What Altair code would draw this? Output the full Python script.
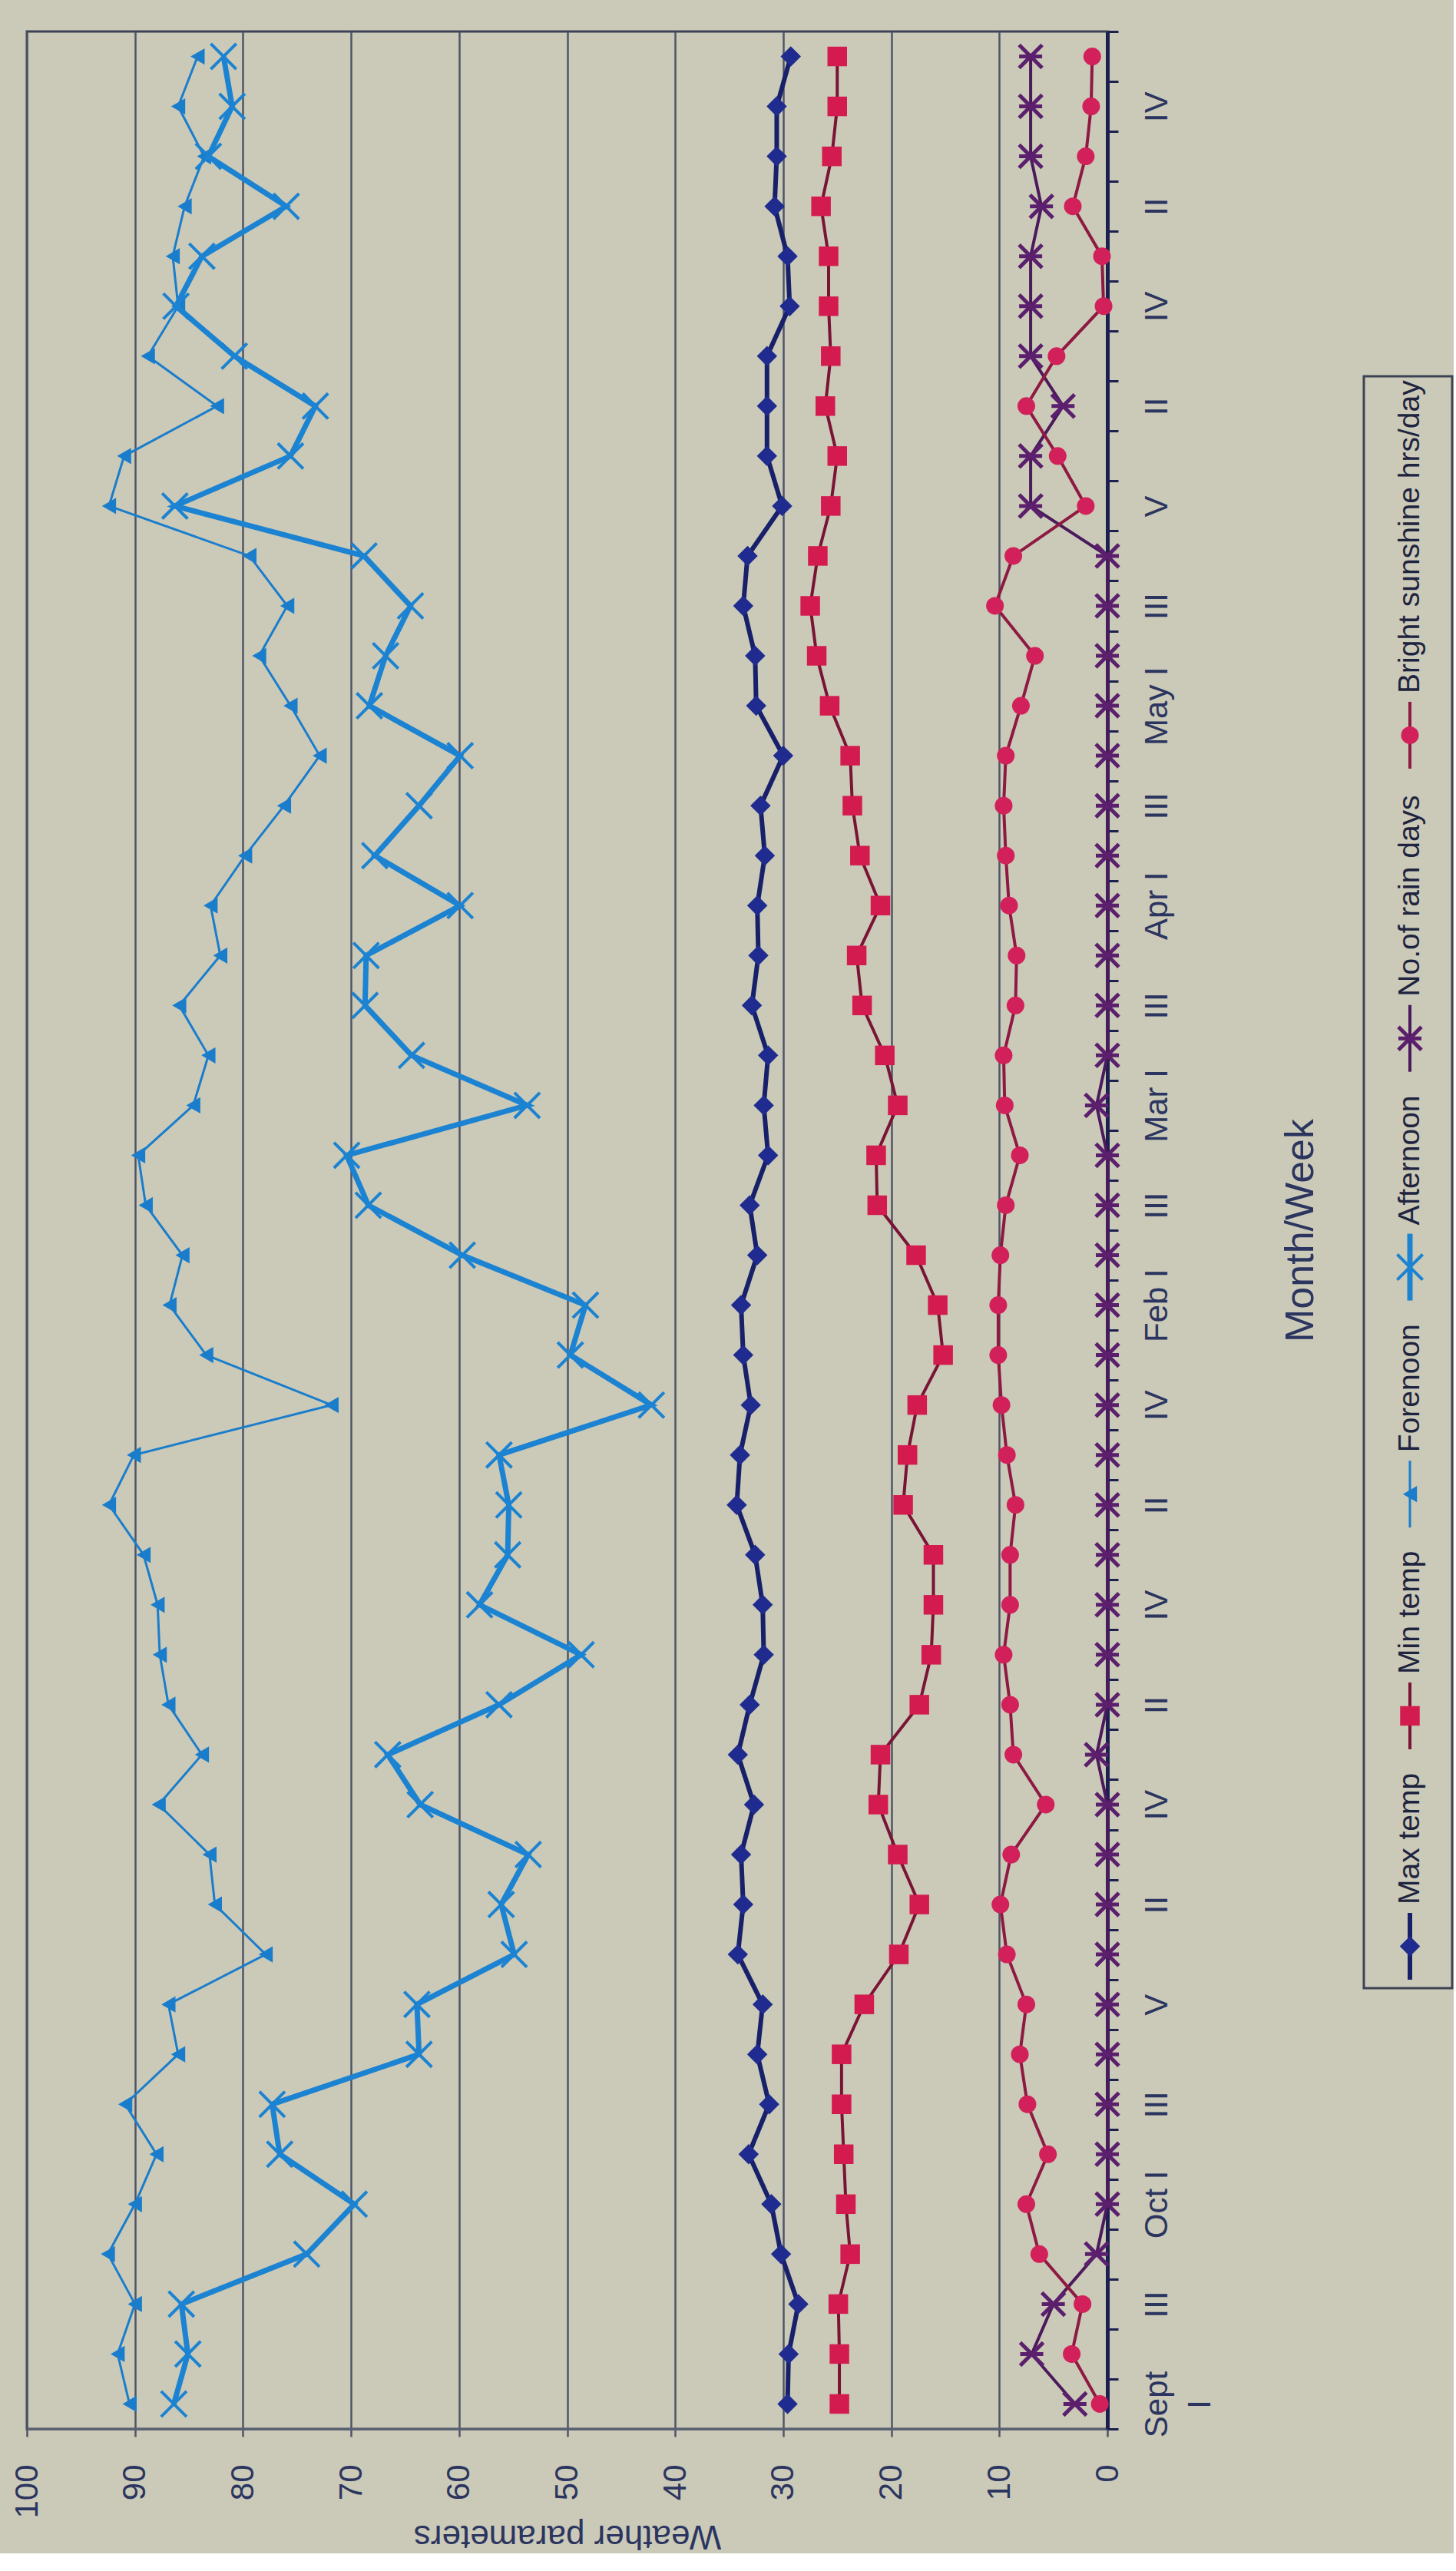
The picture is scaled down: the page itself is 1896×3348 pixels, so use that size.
import json
import altair as alt
import pandas as pd

# ---------------- categories ----------------
months = ["Sept", "Oct", "Nov", "Dec", "Jan", "Feb", "Mar", "Apr", "May", "Jun", "Jul"]
weeks_per_month = [4, 5, 4, 4, 5, 4, 4, 4, 5, 4, 5]
romans = ["I", "II", "III", "IV", "V"]
weeks = [f"{m} {romans[i]}" for m, n in zip(months, weeks_per_month) for i in range(n)]

tick_labels = [["Sept", "I"], "", "III", "", "Oct I", "", "III", "", "V", "",
               "II", "", "IV", "", "II", "", "IV", "", "II", "", "IV", "",
               "Feb I", "", "III", "", "Mar I", "", "III", "", "Apr I", "", "III", "",
               "May I", "", "III", "", "V", "", "II", "", "IV", "", "II", "", "IV", ""]

value_ticks = [0, 10, 20, 30, 40, 50, 60, 70, 80, 90, 100]

# ---------------- series (Sept I ... last week) ----------------
max_temp = [29.6, 29.5, 28.6, 30.2, 31.1, 33.2, 31.3, 32.4, 31.9, 34.2, 33.7, 33.9,
            32.7, 34.2, 33.1, 31.8, 31.9, 32.6, 34.3, 34.0, 33.0, 33.7, 33.9, 32.4,
            33.1, 31.4, 31.8, 31.4, 32.9, 32.3, 32.4, 31.7, 32.1, 30.0, 32.5, 32.6,
            33.7, 33.3, 30.1, 31.5, 31.5, 31.5, 29.4, 29.6, 30.8, 30.6, 30.6, 29.3]
min_temp = [24.8, 24.8, 24.9, 23.8, 24.2, 24.4, 24.6, 24.6, 22.5, 19.3, 17.4, 19.4,
            21.2, 21.0, 17.4, 16.3, 16.1, 16.1, 18.9, 18.5, 17.6, 15.2, 15.7, 17.7,
            21.3, 21.4, 19.4, 20.6, 22.7, 23.2, 21.0, 22.9, 23.6, 23.8, 25.7, 26.9,
            27.5, 26.8, 25.6, 25.0, 26.1, 25.6, 25.8, 25.8, 26.5, 25.5, 25.0, 25.0]
forenoon = [90.5, 91.6, 90.0, 92.5, 90.0, 88.0, 90.9, 86.0, 86.9, 77.9, 82.6, 83.1,
            87.8, 83.8, 86.9, 87.7, 87.9, 89.2, 92.4, 90.1, 71.8, 83.4, 86.8, 85.6,
            89.0, 89.7, 84.6, 83.2, 85.9, 82.1, 83.0, 79.8, 76.2, 72.9, 75.6, 78.5,
            75.9, 79.4, 92.4, 91.0, 82.4, 88.8, 86.0, 86.5, 85.4, 83.6, 86.0, 84.2]
afternoon = [86.4, 85.1, 85.7, 74.1, 69.7, 76.6, 77.3, 63.7, 63.9, 54.9, 56.1, 53.6,
             63.6, 66.6, 56.3, 48.7, 58.1, 55.5, 55.4, 56.3, 42.2, 49.7, 48.3, 59.7,
             68.4, 70.4, 53.7, 64.4, 68.7, 68.6, 59.9, 67.8, 63.7, 59.9, 68.3, 66.8,
             64.5, 68.8, 86.3, 75.6, 73.3, 80.8, 86.2, 83.8, 76.0, 83.2, 81.0, 81.8]
rain_days = [3, 7, 5, 1, 0, 0, 0, 0, 0, 0, 0, 0,
             0, 1, 0, 0, 0, 0, 0, 0, 0, 0, 0, 0,
             0, 0, 1, 0, 0, 0, 0, 0, 0, 0, 0, 0,
             0, 0, 7.1, 7.1, 4.1, 7.1, 7.1, 7.1, 6.1, 7.1, 7.1, 7.1]
sunshine = [0.7, 3.3, 2.3, 6.3, 7.5, 5.5, 7.4, 8.1, 7.5, 9.3, 9.9, 8.9,
            5.7, 8.7, 9.0, 9.6, 9.0, 9.0, 8.5, 9.3, 9.8, 10.1, 10.1, 9.9,
            9.4, 8.1, 9.5, 9.6, 8.5, 8.4, 9.1, 9.4, 9.6, 9.4, 8.0, 6.7,
            10.4, 8.7, 2.0, 4.6, 7.5, 4.7, 0.35, 0.5, 3.2, 2.0, 1.5, 1.4]

series_names = ["Max temp", "Min temp", "Forenoon", "Afternoon",
                "No.of rain days", "Bright sunshine hrs/day"]
series_values = [max_temp, min_temp, forenoon, afternoon, rain_days, sunshine]

rows = []
for s, vals in zip(series_names, series_values):
    for i, v in enumerate(vals):
        rows.append({"series": s, "week": weeks[i], "idx": i, "value": v})
df = pd.DataFrame(rows)

# ---------------- styles ----------------
TEXT = "#2c3560"
GRID = "#4f5567"
AXIS = "#1b2050"
X_PATH = "M-1,-1L1,1M-1,1L1,-1"
AST_PATH = "M-1,-1L1,1M-1,1L1,-1M-1,0L1,0"

styles = {
    "Max temp": dict(line="#18206a", lw=6, shape="diamond", mc="#1f2b8e", size=700, filled=True),
    "Min temp": dict(line="#7a1434", lw=4, shape="square", mc="#d41b4f", size=650, filled=True),
    "Forenoon": dict(line="#1a7dcc", lw=3, shape="triangle-left", mc="#1a7dcc", size=450, filled=True),
    "Afternoon": dict(line="#1b83d2", lw=7, shape=X_PATH, mc="#1b83d2", size=1100, filled=False, msw=4),
    "No.of rain days": dict(line="#4c1a5c", lw=4, shape=AST_PATH, mc="#5b1f6d", size=900, filled=False, msw=5),
    "Bright sunshine hrs/day": dict(line="#8e1a42", lw=4, shape="circle", mc="#d2205a", size=530, filled=True),
}

label_expr = f"{json.dumps(tick_labels)}[indexof({json.dumps(weeks)}, datum.value)]"

x_enc = alt.X(
    "value:Q",
    scale=alt.Scale(domain=[0, 100], reverse=True, nice=False, zero=True),
    axis=alt.Axis(
        values=value_ticks, orient="bottom", labelAngle=270, labelAlign="right",
        labelBaseline="middle", labelFontSize=42, labelColor=TEXT, labelPadding=36,
        labelFlush=False, labelOverlap=False,
        tickSize=10, tickWidth=2.5, tickColor=GRID,
        domainColor="#5a6272", domainWidth=3,
        grid=True, gridColor=GRID, gridWidth=2.5,
        title="Weather parameters", titleAngle=180, titleBaseline="bottom",
        titleFontSize=44, titleFontWeight="normal", titleColor=TEXT, titlePadding=0,
    ),
)
y_enc = alt.Y(
    "week:O",
    sort=weeks[::-1],
    scale=alt.Scale(type="band", paddingInner=0, paddingOuter=0),
    axis=alt.Axis(
        orient="right", labelExpr=label_expr, labelAngle=270, labelAlign="center",
        labelBaseline="top", labelFontSize=42, labelLineHeight=56, labelColor=TEXT,
        labelPadding=30, labelOverlap=False, labelBound=False,
        tickBand="extent", tickSize=14, tickWidth=3, tickColor=AXIS,
        domainColor=AXIS, domainWidth=5, grid=False,
        title="Month/Week", titleAngle=270, titleBaseline="top", titleFontSize=52,
        titleFontWeight="normal", titleColor=TEXT, titlePadding=85,
    ),
)

base = alt.Chart(df).encode(x=x_enc, y=y_enc, order=alt.Order("idx:Q"))

layers = []
for s in series_names:
    st = styles[s]
    b = base.transform_filter(alt.datum.series == s)
    layers.append(b.mark_line(color=st["line"], strokeWidth=st["lw"]))
    if st["filled"]:
        layers.append(b.mark_point(shape=st["shape"], filled=True, color=st["mc"],
                                   size=st["size"], opacity=1))
    else:
        layers.append(b.mark_point(shape=st["shape"], filled=False, color=st["mc"],
                                   size=st["size"], strokeWidth=st["msw"], opacity=1))

main = alt.layer(*layers).properties(width=1407, height=3122)

# ---------------- legend (rotated, built from the series names) ----------------
LEG_FONT = 39
LEG_W = 115
LEG_H = 2099
LEG_TOP_GAP = 445
SYM_LEN = 87
CHAR_W = {"M": 833, "a": 556, "x": 500, " ": 278, "t": 278, "e": 556, "m": 833, "p": 556,
          "i": 222, "n": 556, "F": 611, "o": 556, "r": 333, "A": 667, "f": 278, "N": 722,
          ".": 278, "d": 556, "y": 500, "s": 500, "B": 667, "g": 556, "h": 556, "u": 556,
          "/": 278}


def text_w(t):
    return sum(CHAR_W.get(c, 556) for c in t) / 1000 * LEG_FONT * 1.04


leg_rows = []
cur = 11
for s in series_names:
    lo = cur
    hi = lo + SYM_LEN
    tpos = hi + 11
    leg_rows.append({"series": s, "sym_lo": lo, "sym_hi": hi, "sym_mid": (lo + hi) / 2, "text_pos": tpos})
    cur = tpos + text_w(s) + 24
leg_df = pd.DataFrame(leg_rows)

yscale = alt.Scale(domain=[0, LEG_H], nice=False, zero=False)
lbase = alt.Chart(leg_df)
leg_layers = []
for s in series_names:
    st = styles[s]
    b = lbase.transform_filter(alt.datum.series == s)
    leg_layers.append(b.mark_rule(color=st["line"], strokeWidth=st["lw"]).encode(
        x=alt.value(60), y=alt.Y("sym_lo:Q", scale=yscale, axis=None), y2="sym_hi:Q"))
    pt = dict(shape=st["shape"], color=st["mc"], size=st["size"], opacity=1)
    if st["filled"]:
        pt["filled"] = True
    else:
        pt["filled"] = False
        pt["strokeWidth"] = st["msw"]
    leg_layers.append(b.mark_point(**pt).encode(
        x=alt.value(60), y=alt.Y("sym_mid:Q", scale=yscale, axis=None)))
    leg_layers.append(b.mark_text(angle=270, align="left", baseline="middle",
                                  fontSize=LEG_FONT, color="#1e2440").encode(
        x=alt.value(60), y=alt.Y("text_pos:Q", scale=yscale, axis=None), text="series:N"))

legend = alt.layer(*leg_layers).properties(width=LEG_W, height=LEG_H)

spacer = (
    alt.Chart(pd.DataFrame({"a": [0]}))
    .mark_point(opacity=0)
    .encode(x=alt.value(0), y=alt.value(0))
    .properties(width=LEG_W, height=LEG_TOP_GAP, view=alt.ViewBackground(stroke="transparent"))
)

legend_col = alt.vconcat(spacer, legend, spacing=0)

chart = (
    alt.hconcat(main, legend_col, spacing=50)
    .properties(padding={"left": 12, "top": 36, "right": 0, "bottom": 0})
    .configure(font="Liberation Sans", background="#cbcab8")
    .configure_view(stroke="#3d4354", strokeWidth=3)
)

chart.save("out.html", embed_options={"renderer": "svg", "actions": False})
